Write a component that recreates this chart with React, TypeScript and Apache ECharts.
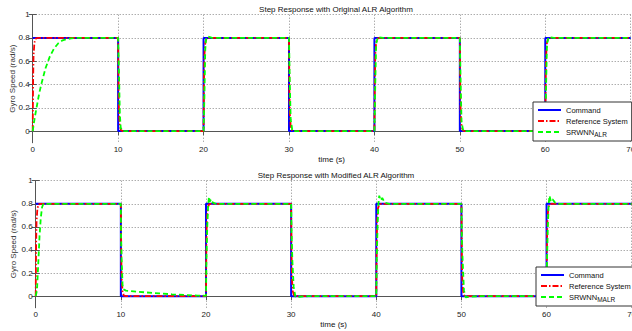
import React, { useEffect, useRef } from "react";
import * as echarts from "echarts";

// ---- Data ----
const xTicks = [0, 10, 20, 30, 40, 50, 60, 70];
const yTicks = [0, 0.2, 0.4, 0.6, 0.8, 1];

const command: number[][] = [
  [0, 0.8], [10, 0.8], [10, 0], [20, 0], [20, 0.8], [30, 0.8], [30, 0],
  [40, 0], [40, 0.8], [50, 0.8], [50, 0], [60, 0], [60, 0.8], [70, 0.8],
];

const reference: number[][] = [
  [0, 0], [0.05, 0.45], [0.1, 0.65], [0.2, 0.76], [0.35, 0.795], [0.6, 0.8],
  [10, 0.8], [10.05, 0.35], [10.1, 0.15], [10.2, 0.04], [10.35, 0.005], [10.6, 0],
  [20, 0], [20.05, 0.45], [20.1, 0.65], [20.2, 0.76], [20.35, 0.795], [20.6, 0.8],
  [30, 0.8], [30.05, 0.35], [30.1, 0.15], [30.2, 0.04], [30.35, 0.005], [30.6, 0],
  [40, 0], [40.05, 0.45], [40.1, 0.65], [40.2, 0.76], [40.35, 0.795], [40.6, 0.8],
  [50, 0.8], [50.05, 0.35], [50.1, 0.15], [50.2, 0.04], [50.35, 0.005], [50.6, 0],
  [60, 0], [60.05, 0.45], [60.1, 0.65], [60.2, 0.76], [60.35, 0.795], [60.6, 0.8],
  [70, 0.8],
];

const srwnnALR: number[][] = [
  [0, 0], [0.25, 0.12], [0.5, 0.22], [0.75, 0.32], [1, 0.4], [1.5, 0.54], [2, 0.64],
  [2.5, 0.71], [3, 0.755], [3.5, 0.78], [4, 0.79], [4.5, 0.797], [5, 0.8],
  [10, 0.8], [10.1, 0.5], [10.2, 0.15], [10.3, 0.03], [10.5, 0],
  [20, 0], [20.1, 0.3], [20.2, 0.7], [20.3, 0.8], [20.5, 0.812], [21, 0.8],
  [30, 0.8], [30.1, 0.4], [30.2, 0.1], [30.4, 0],
  [40, 0], [40.1, 0.4], [40.2, 0.75], [40.4, 0.808], [41, 0.8],
  [50, 0.8], [50.1, 0.4], [50.2, 0.08], [50.4, 0],
  [60, 0], [60.1, 0.4], [60.2, 0.75], [60.4, 0.808], [61, 0.8], [70, 0.8],
];

const srwnnMALR: number[][] = [
  [0, 0], [0.15, 0.05], [0.3, 0.28], [0.45, 0.52], [0.6, 0.68], [0.75, 0.77], [0.9, 0.8],
  [10, 0.8], [10.02, 0.55], [10.1, 0.3], [10.2, 0.1], [10.3, 0.06], [10.6, 0.048],
  [11.5, 0.042], [13, 0.032], [14.5, 0.024], [16, 0.016], [17.5, 0.01], [19, 0.005], [20, 0.003],
  [20.05, 0.3], [20.15, 0.6], [20.25, 0.78], [20.35, 0.86], [20.45, 0.82], [20.6, 0.84],
  [20.8, 0.81], [21.2, 0.8],
  [30, 0.8], [30.05, 0.55], [30.15, 0.3], [30.3, 0.08], [30.5, -0.005], [31, -0.005], [32, 0],
  [40, 0], [40.05, 0.3], [40.15, 0.6], [40.25, 0.8], [40.35, 0.87], [40.5, 0.83], [40.7, 0.85],
  [41, 0.81], [41.5, 0.8],
  [50, 0.8], [50.05, 0.5], [50.15, 0.3], [50.3, 0.05], [50.5, -0.01], [51, -0.005], [52, 0],
  [60, 0], [60.05, 0.3], [60.15, 0.6], [60.25, 0.8], [60.35, 0.87], [60.5, 0.82], [60.7, 0.84],
  [61, 0.81], [61.5, 0.8], [70, 0.8],
];

const titles = ["Step Response with Original ALR Algorithm", "Step Response with Modified ALR Algorithm"];
const legendNames = [
  ["Command", "Reference System", "SRWNN_ALR"],
  ["Command", "Reference System", "SRWNN_MALR"],
];

const FONT = "Liberation Sans, Arial, sans-serif";

export default function App() {
  const ref = useRef<HTMLDivElement>(null);
  useEffect(() => {
    document.body.style.margin = "0";
    const chart = echarts.init(ref.current!, null, { renderer: "svg" });
    const grids = [
      { left: 32.7, top: 14.7, width: 598, height: 128 },
      { left: 35.7, top: 180.7, width: 596, height: 127 },
    ];
    const xAxes: any[] = [];
    const yAxes: any[] = [];
    grids.forEach((_, i) => {
      xAxes.push({
        type: "value", gridIndex: i, min: 0, max: 70, interval: 10,
        name: "time (s)", nameLocation: "middle", nameGap: 13,
        nameTextStyle: { fontSize: 8, color: "#111", fontFamily: FONT },
        axisLine: { show: true, lineStyle: { color: "#555", width: 1 } },
        axisTick: { show: true, inside: true, length: 4, lineStyle: { color: "#555" } },
        axisLabel: { fontSize: 8, color: "#222", margin: 3, fontFamily: FONT },
        splitLine: { show: true, lineStyle: { color: "#888", type: [1, 2], width: 1 } },
      });
      xAxes.push({
        type: "value", gridIndex: i, min: 0, max: 70, interval: 10, position: "top",
        axisLine: { show: true, lineStyle: { color: "#555", width: 1 } },
        axisTick: { show: true, inside: true, length: 4, lineStyle: { color: "#555" } },
        axisLabel: { show: false }, splitLine: { show: false },
      });
      yAxes.push({
        type: "value", gridIndex: i, min: -0.1, max: 1,
        name: "Gyro Speed (rad/s)", nameLocation: "middle", nameGap: 16 + i * 2,
        nameMoveOverlap: false,
        nameTextStyle: { fontSize: 8, color: "#333", fontFamily: FONT },
        axisLine: { show: true, lineStyle: { color: "#555", width: 1 } },
        axisTick: { show: true, inside: true, length: 4, customValues: yTicks, lineStyle: { color: "#555" } },
        axisLabel: {
          fontSize: 8, color: "#222", margin: 3, fontFamily: FONT, customValues: yTicks,
          formatter: (v: number) => (v === 0 ? "0" : v === 1 ? "1" : v.toFixed(1)),
        },
        splitLine: { show: true, lineStyle: { color: "#888", type: [1, 2], width: 1 } },
      });
      yAxes.push({
        type: "value", gridIndex: i, min: -0.1, max: 1, position: "right",
        axisLine: { show: true, lineStyle: { color: "#555", width: 1 } },
        axisTick: { show: true, inside: true, length: 4, customValues: yTicks, lineStyle: { color: "#555" } },
        axisLabel: { show: false }, splitLine: { show: false },
      });
    });

    const mkSeries = (name: string, data: number[][], i: number, kind: number) => ({
      type: "line", name, data, xAxisIndex: i * 2, yAxisIndex: i * 2,
      symbol: "none", showSymbol: false, silent: true, z: 2 + kind,
      lineStyle:
        kind === 0
          ? { color: "#0000ff", width: 2, type: "solid" }
          : kind === 1
          ? { color: "#ff0000", width: 1.8, type: [6, 2, 1.5, 2] }
          : { color: "#00ff00", width: 1.8, type: [5, 3] },
      itemStyle: { color: kind === 0 ? "#0000ff" : kind === 1 ? "#ff0000" : "#00ff00" },
    });

    const series: any[] = [
      mkSeries("Command", command, 0, 0),
      mkSeries("Reference System", reference, 0, 1),
      mkSeries("SRWNN_ALR", srwnnALR, 0, 2),
      mkSeries("Command", command, 1, 0),
      mkSeries("Reference System", reference, 1, 1),
      mkSeries("SRWNN_MALR", srwnnMALR, 1, 2),
    ];

    const legendPos = [
      { left: 533, top: 102 },
      { left: 536, top: 267 },
    ];
    const legends = legendNames.map((names, i) => ({
      ...legendPos[i], orient: "vertical", data: names,
      backgroundColor: "#fff", borderColor: "#333", borderWidth: 1,
      padding: [3, 4, 3, 4], itemGap: 1, itemWidth: 23, itemHeight: 9, itemTextGap: 2,
      selectedMode: false,
      itemStyle: { opacity: 0 },
      formatter: (n: string) => (n.startsWith("SRWNN_") ? "SRWNN{sub|" + n.slice(6) + "}" : n),
      textStyle: {
        fontSize: 7.5, color: "#111", fontFamily: FONT, lineHeight: 10,
        rich: { sub: { fontSize: 6.5, fontFamily: FONT, color: "#111", padding: [5, 0, 0, 0] } },
      },
      z: 10,
    }));

    chart.setOption({
      animation: false,
      backgroundColor: "#fff",
      title: titles.map((t, i) => ({
        text: t, left: 331, textAlign: "center", top: i === 0 ? 0 : 166,
        textStyle: { fontSize: 8, fontWeight: "normal", color: "#111", fontFamily: FONT },
      })),
      grid: grids.map((g) => ({ ...g, show: false, containLabel: false, outerBoundsMode: "none" })),
      xAxis: xAxes,
      yAxis: yAxes,
      legend: legends,
      series,
    });
    return () => chart.dispose();
  }, []);
  return <div ref={ref} style={{ width: 632, height: 331 }} />;
}
